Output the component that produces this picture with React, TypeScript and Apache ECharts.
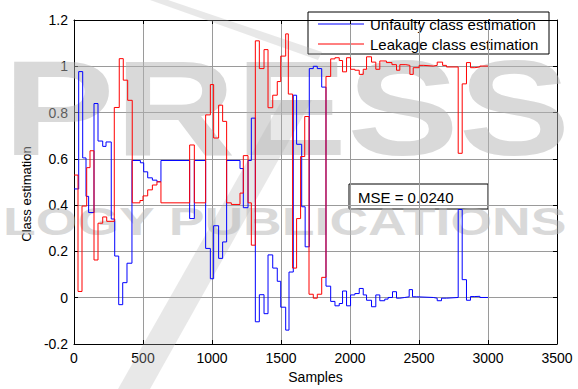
import React, { useEffect, useRef } from "react";
import * as echarts from "echarts";

// Sample index where each step begins, and the value held from there
const unfaultyX = [0, 34, 63, 87, 106, 145, 174, 208, 232, 270, 295, 324, 353, 384, 420, 481, 505, 534, 568, 601, 630, 838, 872, 954, 988, 1012, 1048, 1077, 1106, 1203, 1227, 1261, 1285, 1314, 1343, 1377, 1406, 1440, 1473, 1498, 1534, 1558, 1589, 1613, 1650, 1675, 1705, 1734, 1763, 1795, 1826, 1860, 1891, 1922, 1946, 1975, 2004, 2035, 2067, 2096, 2120, 2156, 2187, 2216, 2252, 2276, 2308, 2337, 2361, 2397, 2429, 2453, 2482, 2603, 2632, 2663, 2699, 2784, 2813, 2844, 2873, 2905, 2941, 3000];
const unfaultyY = [0.47, 0.977, 0.604, 0.438, 0.368, 0.839, 0.677, 0.654, 0.673, 0.34, 0.18, -0.03, 0.065, 0.149, 0.593, 0.583, 0.544, 0.518, 0.508, 0.501, 0.593, 0.342, 0.593, 0.213, 0.082, 0.311, 0.17, 0.241, 0.593, 0.558, 0.389, 0.593, 0.776, -0.104, 0.013, -0.069, 0.185, 0.128, 0.071, -0.041, -0.14, 0.111, 0.875, 0.663, 0.393, 0.22, 0.99, 1.0, 0.99, 0.91, 0.05, -0.016, -0.035, -0.025, 0.029, -0.035, 0.012, 0.018, 0.04, 0.012, -0.011, -0.039, 0.012, -0.013, -0.006, 0.001, 0.026, -0.002, 0.001, 0.004, 0.035, 0.004, 0.001, -0.002, -0.013, -0.002, 0.001, 0.381, 0.078, -0.011, 0.005, 0.006, 0.001, 0.001];

const leakageX = [0, 29, 58, 92, 116, 145, 174, 208, 237, 292, 328, 357, 389, 422, 478, 500, 534, 568, 601, 630, 838, 872, 954, 988, 1012, 1048, 1077, 1106, 1140, 1203, 1227, 1261, 1285, 1314, 1343, 1377, 1406, 1440, 1473, 1498, 1534, 1553, 1584, 1613, 1642, 1672, 1703, 1734, 1763, 1795, 1826, 1860, 1891, 1922, 1946, 1975, 2004, 2035, 2067, 2096, 2120, 2156, 2187, 2216, 2264, 2304, 2337, 2361, 2405, 2434, 2458, 2501, 2535, 2603, 2632, 2671, 2699, 2784, 2813, 2844, 2873, 2905, 2941, 3000];
const leakageY = [0.53, 0.027, 0.396, 0.562, 0.635, 0.163, 0.322, 0.349, 0.33, 0.822, 1.033, 0.94, 0.853, 0.41, 0.42, 0.44, 0.466, 0.487, 0.501, 0.41, 0.66, 0.41, 0.79, 0.921, 0.69, 0.832, 0.762, 0.41, 0.403, 0.452, 0.614, 0.41, 0.227, 1.11, 0.99, 1.072, 0.821, 0.875, 0.934, 1.044, 1.14, 0.88, 0.128, 0.342, 0.61, 0.783, 0.015, -0.002, 0.015, 0.088, 0.956, 1.032, 1.037, 1.025, 0.976, 1.037, 0.987, 0.983, 0.965, 0.987, 1.041, 1.018, 0.987, 1.023, 1.016, 1.007, 0.983, 1.007, 1.004, 0.965, 0.994, 1.004, 1.001, 1.004, 1.018, 1.004, 0.997, 0.624, 0.924, 1.016, 0.994, 0.997, 1.001, 1.001];

const seriesNames = ["Unfaulty class estimation", "Leakage class estimation"];
const seriesColors = ["#0000ff", "#ff0000"];
const xTicks = { min: 0, max: 3500, interval: 500 };
const yTicks = { min: -0.2, max: 1.2, interval: 0.2 };
const mseText = "MSE = 0.0240";
const watermarkTop = "PRESS";
const watermarkBottom = "LOGY PUBLICATIONS";

const FONT = "'Liberation Sans', Arial, Helvetica, sans-serif";

export default function App() {
  const ref = useRef<HTMLDivElement>(null);
  useEffect(() => {
    if (!ref.current) return;
    const chart = echarts.init(ref.current, undefined, { renderer: "svg" });
    const pairs = (xs: number[], ys: number[]) => xs.map((x, i) => [x, ys[i]]);
    const gridLine = { show: true, lineStyle: { color: "#9a9a9a", width: 1 } };
    const axisLine = { show: true, onZero: false, lineStyle: { color: "#000", width: 1 } };
    const tick = { show: true, inside: true, length: 4, lineStyle: { color: "#000" } };
    const label = { color: "#000", fontSize: 14, fontFamily: FONT };
    const wm = "#b4b4b4";
    const legendItems = seriesNames.map((name, i) => ({
      type: "group",
      x: 318,
      y: 24 + i * 20,
      children: [
        { type: "line", shape: { x1: 0, y1: 0, x2: 46, y2: 0 }, style: { stroke: seriesColors[i], lineWidth: 1 } },
        { type: "text", x: 52, y: 0, style: { text: name, fill: "#000", font: `15px ${FONT}`, verticalAlign: "middle" } },
      ],
    }));
    chart.setOption({
      animation: false,
      backgroundColor: "#fff",
      grid: { left: 74, right: 21, top: 20, bottom: 39, show: false },
      xAxis: [
        {
          type: "value", ...xTicks, position: "bottom",
          axisLine, axisTick: tick, splitLine: gridLine,
          axisLabel: { ...label, margin: 7, formatter: (v: number) => String(v) },
          name: "Samples", nameLocation: "middle", nameGap: 26,
          nameTextStyle: { color: "#000", fontSize: 14, fontFamily: FONT },
        },
        {
          type: "value", ...xTicks, position: "top",
          axisLine, axisTick: tick, splitLine: { show: false }, axisLabel: { show: false },
        },
      ],
      yAxis: [
        {
          type: "value", ...yTicks, position: "left",
          axisLine, axisTick: tick, splitLine: gridLine,
          axisLabel: { ...label, margin: 6 },
          name: "Class estimation", nameLocation: "middle", nameGap: 38,
          nameTextStyle: { color: "#000", fontSize: 13, fontFamily: FONT, padding: [0, 24, 0, 0] },
        },
        {
          type: "value", ...yTicks, position: "right",
          axisLine, axisTick: tick, splitLine: { show: false }, axisLabel: { show: false },
        },
      ],
      legend: { show: false, data: seriesNames },
      graphic: [
        {
          type: "text", z: 1, x: 3, y: 40, scaleX: 1.24, silent: true,
          style: { text: watermarkTop, fill: wm, opacity: 0.5, font: `bold 135px ${FONT}` },
        },
        {
          type: "text", z: 1, x: 3, y: 203, scaleX: 1.41, silent: true,
          style: { text: watermarkBottom, fill: wm, opacity: 0.5, font: `bold 38px ${FONT}` },
        },
        {
          type: "polygon", z: 1, silent: true,
          shape: { points: [[118, 389], [150, 389], [312, 100], [282, 100]] },
          style: { fill: wm, opacity: 0.3 },
        },
        {
          type: "polygon", z: 1, silent: true,
          shape: { points: [[150, 0], [168, 0], [322, 52], [318, 60]] },
          style: { fill: wm, opacity: 0.3 },
        },
        {
          type: "group", z: 20, x: 0, y: 0,
          children: [
            { type: "rect", shape: { x: 308, y: 12, width: 241, height: 42 }, style: { fill: "#fff", stroke: "#000", lineWidth: 1 } },
            ...legendItems,
          ],
        },
        {
          type: "group", z: 20, x: 349, y: 184,
          children: [
            { type: "rect", shape: { x: 0, y: 0, width: 139, height: 25 }, style: { fill: "#fff", stroke: "#000", lineWidth: 1 } },
            { type: "text", x: 9, y: 13, style: { text: mseText, fill: "#000", font: `15px ${FONT}`, verticalAlign: "middle" } },
          ],
        },
      ],
      series: [
        {
          name: seriesNames[0], type: "line", step: "end", symbol: "none",
          xAxisIndex: 0, yAxisIndex: 0,
          lineStyle: { color: seriesColors[0], width: 1 }, itemStyle: { color: seriesColors[0] },
          data: pairs(unfaultyX, unfaultyY), z: 3,
        },
        {
          name: seriesNames[1], type: "line", step: "end", symbol: "none",
          xAxisIndex: 0, yAxisIndex: 0,
          lineStyle: { color: seriesColors[1], width: 1 }, itemStyle: { color: seriesColors[1] },
          data: pairs(leakageX, leakageY), z: 4,
        },
      ],
    });
    return () => chart.dispose();
  }, []);
  return (
    <div
      ref={ref}
      style={{ position: "fixed", left: 0, top: 0, width: 578, height: 389 }}
    />
  );
}
